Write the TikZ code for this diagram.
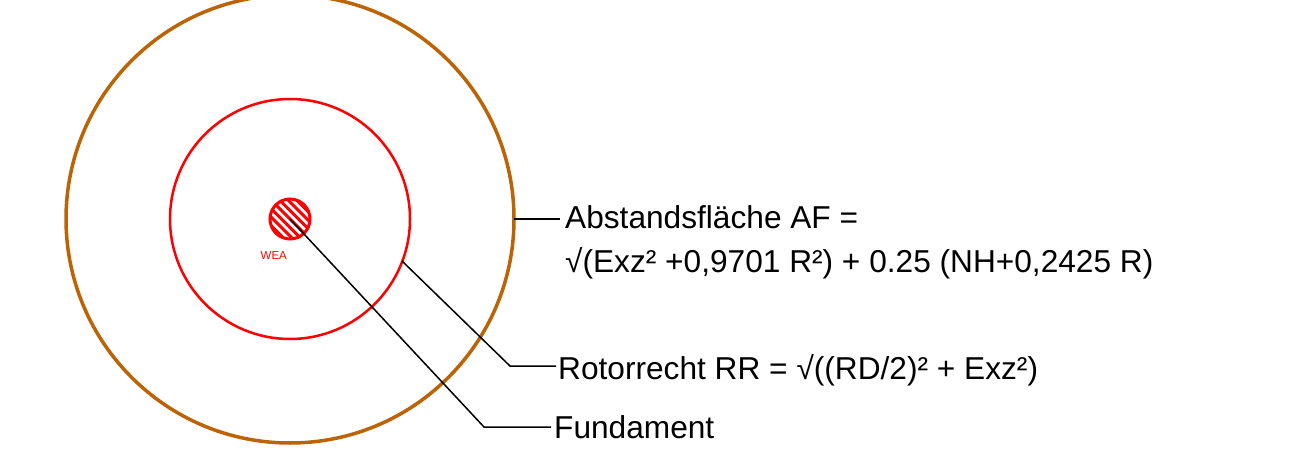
\documentclass[tikz,border=0pt]{standalone}
\usepackage{fontspec}
\setmainfont{Liberation Sans}
\definecolor{afbrown}{RGB}{187,99,5}
\tikzset{
  x=1pt,y=-1pt,
  ring/.style={circle,draw,inner sep=0pt,minimum size=#1*1pt},
  leader/.style={draw=black,line width=1.5pt,line join=miter},
  lbl/.style={anchor=base west,inner sep=0pt,font=\fontsize{31.65}{36}\selectfont,text=black},
  hatchline/.style={draw=red,line width=3pt}
}
\begin{document}
\begin{tikzpicture}
\useasboundingbox (0,0) rectangle (1306,476);
\begin{scope}
\clip (0,0) rectangle (1306,476);
\node[ring=448,draw=afbrown,line width=3.5pt] (af) at (290,219) {};
\end{scope}
\node[ring=240,draw=red,line width=2.5pt] (rr) at (290,219) {};
\begin{scope}
\clip (290,219) circle[radius=20];
\foreach \d in {-34,-25.5,...,34} {
  \draw[hatchline] (290+\d-30,219-30) -- (290+\d+30,219+30);
}
\end{scope}
\node[ring=40,draw=red,line width=3pt] (wea) at (290,219) {};
\node[anchor=base west,inner sep=0pt,text=red,font=\fontsize{11.5}{13}\selectfont] (wealabel) at (260.5,259) {WEA};
\node[lbl] (afa) at (565,228) {Abstandsfläche AF =};
\node[lbl] (afb) at (565,272) {√(Exz² +0,9701 R²) + 0.25 (NH+0,2425 R)};
\node[lbl] (rrl) at (558,379) {Rotorrecht RR = √((RD/2)² + Exz²)};
\node[lbl] (fund) at (554,438) {Fundament};
\coordinate (afs) at (514,219);
\coordinate (afe) at (560,219);
\coordinate (rrs) at (402,261);
\coordinate (rrm) at (510,366);
\coordinate (rre) at (556,366);
\coordinate (fm) at (484,427);
\coordinate (fe) at (551,427);
\draw[leader] (afs) -- (afe);
\draw[leader] (rrs) -- (rrm) -- (rre);
\draw[leader] (wea.center) -- (fm) -- (fe);
\end{tikzpicture}
\end{document}
